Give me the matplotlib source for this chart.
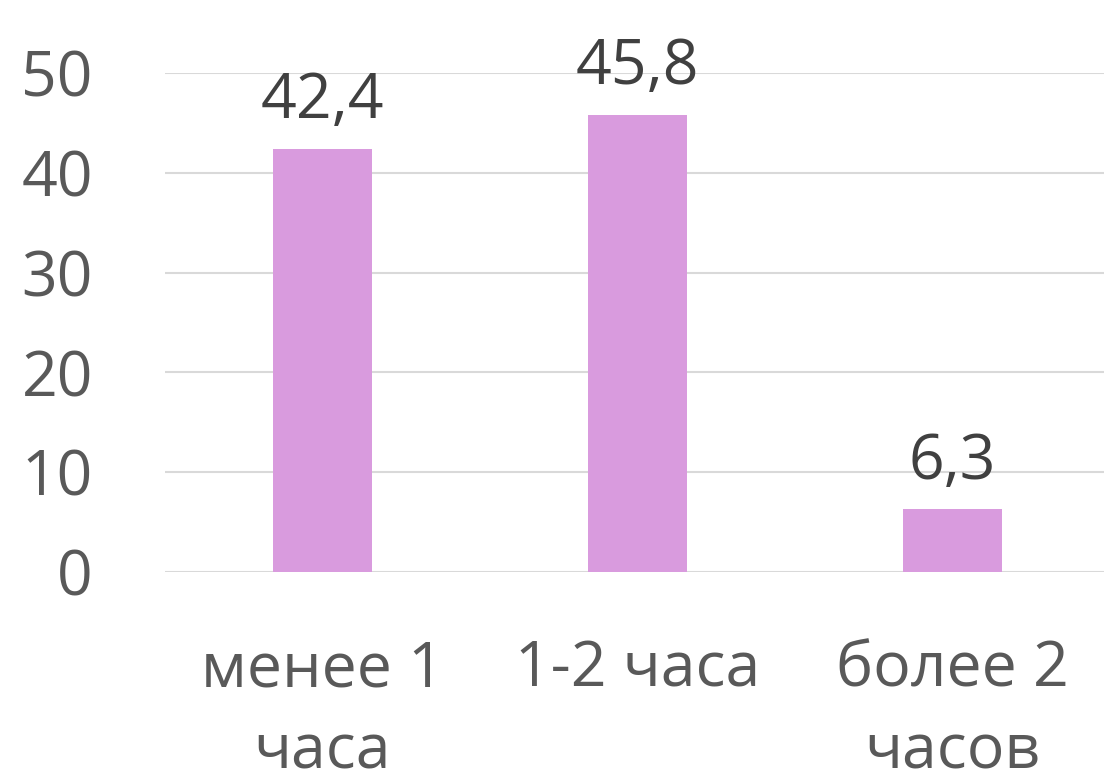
import matplotlib
matplotlib.use("Agg")
import matplotlib.pyplot as plt

categories = ["менее 1\nчаса", "1-2 часа", "более 2\nчасов"]
values = [42.4, 45.8, 6.3]
value_labels = ["42,4", "45,8", "6,3"]
y_ticks = [0, 10, 20, 30, 40, 50]

plt.rcParams["font.family"] = ["Open Sans", "DejaVu Sans"]

W, H = 1104, 783
fig = plt.figure(figsize=(W / 100, H / 100), dpi=100)
ax = fig.add_axes([165 / W, 211 / H, 945 / W, (572 - 73) / H])

x = range(len(categories))
ax.bar(x, values, width=0.314, color="#d99bde", zorder=3)

for xi, v, lab in zip(x, values, value_labels):
    ax.annotate(lab, (xi, v), xytext=(0, 22), textcoords="offset points",
                ha="center", va="baseline", fontsize=45, color="#404040",
                annotation_clip=False)

ax.set_xlim(-0.5, 2.5)
ax.set_ylim(0, 50)
ax.set_yticks(y_ticks)
ax.set_yticklabels([str(t) for t in y_ticks])
ax.set_xticks(list(x))
ax.set_xticklabels(categories, linespacing=1.42)
ax.tick_params(axis="y", length=0, pad=52, labelsize=45, labelcolor="#595959")
ax.tick_params(axis="x", length=0, pad=48, labelsize=45, labelcolor="#595959")

ax.grid(axis="y", color="#d9d9d9", linewidth=1.5, zorder=0)
for s in ax.spines.values():
    s.set_visible(False)

fig.savefig("out.png", dpi=100)
